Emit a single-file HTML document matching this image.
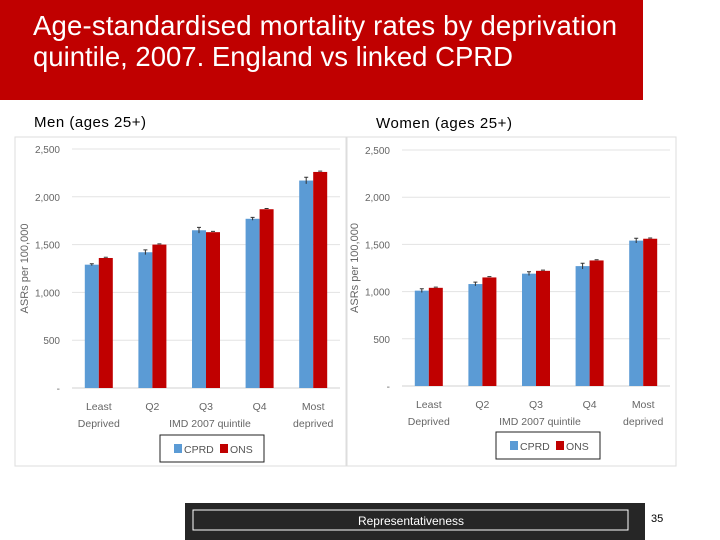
<!DOCTYPE html>
<html><head><meta charset="utf-8"><style>
html,body{margin:0;padding:0;background:#fff;width:720px;height:540px;overflow:hidden;font-family:"Liberation Sans",sans-serif}
</style></head><body>
<svg id="s" width="720" height="540" xmlns="http://www.w3.org/2000/svg">
<rect x="0" y="0" width="643" height="100" fill="#c00000"/>
<text x="33" y="35" font-size="27.5" fill="#fff" textLength="584">Age-standardised mortality rates by deprivation</text>
<text x="33" y="66" font-size="27.5" fill="#fff">quintile, 2007. England vs linked CPRD</text>
<text x="34" y="127" font-size="15" fill="#000" textLength="112">Men (ages 25+)</text>
<text x="376" y="128" font-size="15" fill="#000" textLength="136">Women (ages 25+)</text>
<rect x="15" y="137" width="331" height="329" fill="#fff" stroke="#ddd"/>
<rect x="347" y="137" width="329" height="329" fill="#fff" stroke="#ddd"/>
<g id="men"></g>
<g id="women"></g>
<rect x="185" y="503" width="460" height="37" fill="#262626"/>
<rect x="193" y="510" width="435" height="20" fill="none" stroke="#fff" stroke-width="1"/>
<text x="411" y="525" font-size="12" fill="#fff" text-anchor="middle">Representativeness</text>
<text x="651" y="522" font-size="11" fill="#000">35</text>
</svg>
<script>
const categories=["Least|Deprived","Q2","Q3","Q4","Most|deprived"];
const menCPRD=[1290,1420,1650,1770,2170];
const menONS=[1360,1500,1630,1870,2260];
const womenCPRD=[1010,1080,1190,1270,1540];
const womenONS=[1040,1150,1220,1330,1560];
const menErr=[10,25,30,15,35];
const womenErr=[20,20,20,30,25];
const yTicks=[0,500,1000,1500,2000,2500];
const yTickLabels=["-","500","1,000","1,500","2,000","2,500"];
const NS="http://www.w3.org/2000/svg";
function mk(p,t,a,txt){const e=document.createElementNS(NS,t);for(const k in a)e.setAttribute(k,a[k]);if(txt!=null)e.textContent=txt;p.appendChild(e);return e;}
function chart(g,x0,x1,y0,y1,cp,on,er,pref,legX,legY){
 const y=v=>y0-(v/2500)*(y0-y1);
 const bw=(x1-x0)/categories.length;
 yTicks.forEach((t,i)=>{
  const l=mk(g,"line",{x1:x0,x2:x1,y1:y(t),y2:y(t),stroke:i==0?"#d0d0d0":"#e3e3e3"});
  
  
  const tx=mk(g,"text",{x:x0-12,y:y(t)+4,"font-size":10,fill:"#666","text-anchor":"end"},yTickLabels[i]);
  
  
 });
 const at=mk(g,"text",{x:0,y:0,"font-size":11,fill:"#666","text-anchor":"middle",transform:`translate(${x0-44},${(y0+y1)/2}) rotate(-90)`},"ASRs per 100,000");
 
 
 categories.forEach((c,i)=>{
  const cx=x0+bw*(i+0.5);
  const b1=mk(g,"rect",{x:cx-14,y:y(cp[i]),width:14,height:y0-y(cp[i]),fill:"#5b9bd5"});
  
  
  const b2=mk(g,"rect",{x:cx,y:y(on[i]),width:14,height:y0-y(on[i]),fill:"#c00000"});
  
  
  const e=mk(g,"path",{d:`M${cx-9} ${y(cp[i]+er[i])}h4M${cx-7} ${y(cp[i]+er[i])}V${y(cp[i]-er[i])}M${cx+5} ${y(on[i]+8)}h4`,stroke:"#333","stroke-width":1,fill:"none"});
  
  
  c.split("|").forEach((p,j)=>{
   const t=mk(g,"text",{x:cx,y:y0+22+j*17,"font-size":10.5,fill:"#666","text-anchor":"middle"},p);
   
   
  });
 });
 const xt=mk(g,"text",{x:(x0+x1)/2+4,y:y0+39,"font-size":10.5,fill:"#666","text-anchor":"middle"},"IMD 2007 quintile");
 
 
 const lb=mk(g,"rect",{x:legX,y:legY,width:104,height:27,fill:"#fff",stroke:"#222"});
 
 
 const s1=mk(g,"rect",{x:legX+14,y:legY+9,width:8,height:9,fill:"#5b9bd5"});
 
 
 const t1=mk(g,"text",{x:legX+24,y:legY+18,"font-size":10.5,fill:"#555"},"CPRD");
 
 
 const s2=mk(g,"rect",{x:legX+60,y:legY+9,width:8,height:9,fill:"#c00000"});
 
 
 const t2=mk(g,"text",{x:legX+70,y:legY+18,"font-size":10.5,fill:"#555"},"ONS");
 
 
}
chart(document.getElementById("men"),72,340,388,149,menCPRD,menONS,menErr,"men",160,435);
chart(document.getElementById("women"),402,670,386,150,womenCPRD,womenONS,womenErr,"women",496,432);
</script>
</body></html>
